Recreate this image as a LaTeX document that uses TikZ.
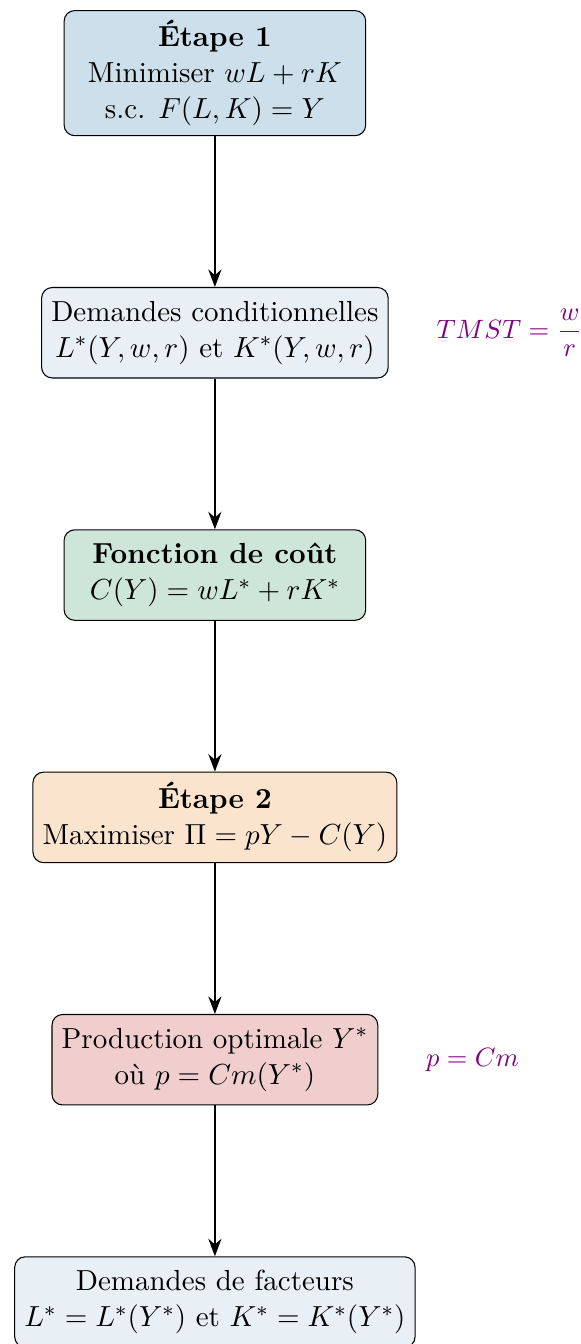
\documentclass[tikz,border=0pt,11pt]{standalone}
\usepackage{amsmath, amssymb}
\usepackage{tikz}
\usetikzlibrary{positioning, arrows.meta}
\usepackage{xcolor}
\definecolor{stepOne}{RGB}{204, 223, 234}
\definecolor{demand}{RGB}{232, 240, 246}
\definecolor{cost}{RGB}{205, 230, 217}
\definecolor{stepTwo}{RGB}{251, 228, 205}
\definecolor{optimum}{RGB}{240, 206, 206}

\begin{document}
\begin{tikzpicture}[>=Stealth, node distance=2cm,
  box/.style={draw, rounded corners, align=center, minimum width=4cm, minimum height=1.2cm},
  flow/.style={->, thick},
  note/.style={violet, font=\small}]
  \useasboundingbox (-81.1pt, 3.8pt) rectangle (138.1pt, -503.4pt);

  % Etape 1 : minimisation du cout
  \node[box, fill=stepOne, anchor=north] (etape1) at (0, 0)
    {\textbf{Étape 1}\\ Minimiser $wL + rK$\\ s.c. $F(L, K) = Y$};
  \node[box, fill=demand, below=of etape1] (demCond)
    {Demandes conditionnelles\\ $L^*(Y, w, r)$ et $K^*(Y, w, r)$};
  \node[box, fill=cost, below=of demCond] (cout)
    {\textbf{Fonction de coût}\\ $C(Y) = wL^* + rK^*$};

  % Etape 2 : maximisation du profit
  \node[box, fill=stepTwo, below=of cout] (etape2)
    {\textbf{Étape 2}\\ Maximiser $\Pi = pY - C(Y)$};
  \node[box, fill=optimum, below=of etape2] (prodOpt)
    {Production optimale $Y^*$\\ où $p = Cm(Y^*)$};
  \node[box, fill=demand, below=of prodOpt] (demFact)
    {Demandes de facteurs\\ $L^* = L^*(Y^*)$ et $K^* = K^*(Y^*)$};

  % Conditions d'optimalite
  \node[note, right=0.5cm of demCond] (tmst) {$TMST = \dfrac{w}{r}$};
  \node[note, right=0.5cm of prodOpt] (pcm) {$p = Cm$};

  \draw[flow] (etape1) -- (demCond);
  \draw[flow] (demCond) -- (cout);
  \draw[flow] (cout) -- (etape2);
  \draw[flow] (etape2) -- (prodOpt);
  \draw[flow] (prodOpt) -- (demFact);
\end{tikzpicture}
\end{document}
